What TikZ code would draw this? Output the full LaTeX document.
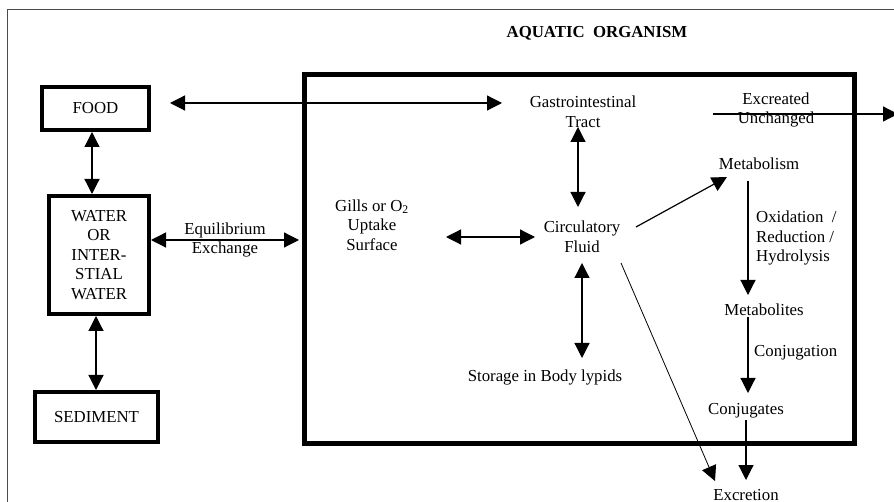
\documentclass[tikz,border=0pt]{standalone}
\usepackage{fontspec}
\setmainfont{Liberation Serif}
\usetikzlibrary{arrows.meta}

\begin{document}
\begin{tikzpicture}[x=1pt, y=-1pt, >={Triangle[length=15pt,width=15pt]},
    every node/.style={font=\fontsize{16.8}{19.5}\selectfont, align=center, inner sep=2pt},
    box/.style={draw, line width=4pt, outer sep=0pt},
    dbl/.style={<->, line width=1.2pt},
    one/.style={->, line width=1.2pt}]

                \useasboundingbox (0,0) rectangle (894,502);

                % Frame
                \draw[line width=1pt, black!70] (7,502) -- (7,10) -- (894,10);

                % Nodes
                \node (title) at (597,33) {\bfseries AQUATIC\ \ ORGANISM};
                \node[box, minimum width=107, minimum height=43] (food) at (95.5,108.5) {FOOD};
                \node[box, minimum width=100, minimum height=118] (water) at (99,255) {WATER\\OR\\INTER-\\STIAL\\WATER};
                \node[box, minimum width=123, minimum height=50] (sediment) at (96.5,417) {SEDIMENT};
                \node[draw, line width=5pt, outer sep=0pt, minimum width=550, minimum height=368] (org) at (579,259) {};

                \node (gastro) at (583,112) {Gastrointestinal\\Tract};
                \node (gills) at (372,225) {Gills or O\textsubscript{2}\\Uptake\\Surface};
                \node (circ) at (582,237) {Circulatory\\Fluid};
                \node (storage) at (545,377) {Storage in Body lypids};
                \node (excreted) at (776,110) {Excreated\\Unchanged};
                \node (metab) at (759,164) {Metabolism};
                \node[anchor=west, align=left] (oxid) at (754,238) {Oxidation~ /\\Reduction /\\Hydrolysis};
                \node (metabolites) at (764,310) {Metabolites};
                \node[anchor=west] (conj) at (752,353) {Conjugation};
                \node (conjugates) at (746,411) {Conjugates};
                \node (excretion) at (746,495) {Excretion};
                \coordinate (out) at (898,114);

                % Outside the organism
                \draw[dbl] ([shift={(-3.5,2)}]food.south) -- ([shift={(-7,-2)}]water.north);
                \draw[dbl] ([shift={(-3,2)}]water.south) -- ([shift={(-0.5,-2)}]sediment.north);
                \draw[dbl] ([shift={(2,-15)}]water.east) -- ([shift={(-5,-19)}]org.west)
                    node[midway, above, inner sep=1pt] {Equilibrium}
                    node[midway, below, inner sep=1pt] {Exchange};
                \draw[dbl] ([shift={(74.5,-5.5)}]food.center) -- ([shift={(-81,-9)}]gastro.center);

                % Inside the organism
                \draw[dbl] ([shift={(-5,15)}]gastro.center) -- ([shift={(-4,-30)}]circ.center);
                \draw[dbl] ([shift={(74,12)}]gills.center) -- ([shift={(-47,0)}]circ.center);
                \draw[dbl] ([shift={(0,26)}]circ.center) -- ([shift={(37,-19)}]storage.center);
                \draw[one] ([shift={(54,-10)}]circ.center) -- ([shift={(-32,13)}]metab.center);
                \draw[->, line width=0.8pt] ([shift={(39,26)}]circ.center) -- ([shift={(-31,-14)}]excretion.center);
                \draw[one] ([shift={(-11,17)}]metab.center) -- ([shift={(-16,-15)}]metabolites.center);
                \draw[one] ([shift={(-16,7)}]metabolites.center) -- ([shift={(2,-18)}]conjugates.center);
                \draw[one] ([shift={(0,9)}]conjugates.center) -- ([shift={(0,-15)}]excretion.center);
                \draw[one] ([shift={(-63,4)}]excreted.center) -- (out);

            \end{tikzpicture}
\end{document}
